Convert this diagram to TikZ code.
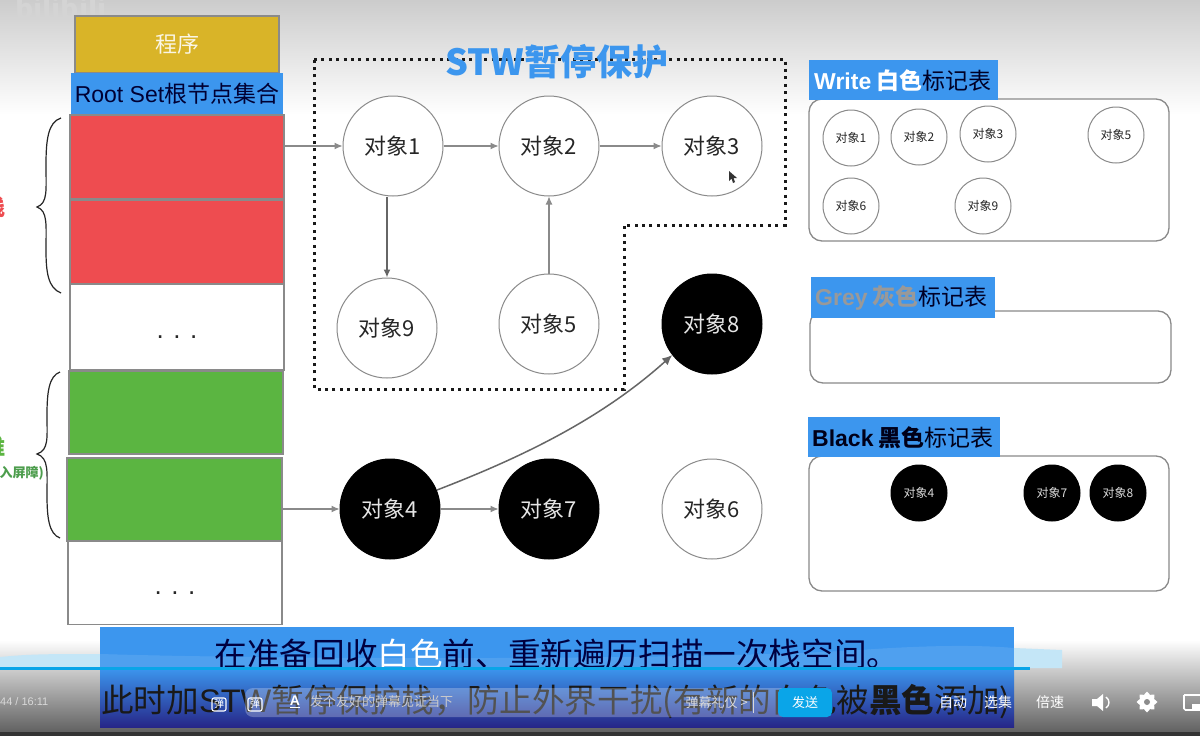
\documentclass[tikz,border=0pt]{standalone}
\usepackage{fontspec}
\setmainfont{Liberation Sans}
\newfontfamily\cjk{Noto Sans CJK SC}
\usetikzlibrary{arrows.meta,calc,shapes.geometric}
\definecolor{blueL}{HTML}{3C96EE}
\definecolor{redF}{HTML}{EE4C50}
\definecolor{greenF}{HTML}{5BB541}
\definecolor{goldF}{HTML}{D9B428}
\definecolor{edgeG}{HTML}{8A8A8A}
\definecolor{barB}{HTML}{0AA5E8}
\definecolor{waveB}{HTML}{C4E6F7}
\tikzset{
  x=1pt,y=-1pt,
  fs/.style={font=\fontsize{#1}{#1}\selectfont\cjk},
  bar/.style={draw=edgeG,line width=1.2pt,minimum width=0,inner sep=0},
  obj/.style={circle,draw=edgeG,fill=white,line width=1pt,minimum size=100pt,inner sep=0,fs=22,text=black!85},
  objb/.style={obj,fill=black,draw=black,text=white!90!black},
  sobj/.style={circle,draw=edgeG,fill=white,line width=1pt,minimum size=56pt,inner sep=0,fs=12,text=black!85},
  sobjb/.style={sobj,fill=black,draw=black,text=white!85!black},
  tbl/.style={draw=edgeG,line width=1.3pt,rounded corners=13pt,fill=white},
  lab/.style={fill=blueL,inner sep=0,anchor=north west},
  con/.style={draw=edgeG,line width=1.1pt,-{Latex[length=8pt,width=7pt]}},
  conb/.style={draw=black!60,line width=1.5pt,-{Latex[length=10pt,width=9pt]}},
  brace/.style={draw=black!85,line width=1.2pt},
  ctl/.style={fs=14,text=white},
  dots/.style={font=\fontsize{26}{26}\selectfont,text=black!85,inner sep=0},
}
\begin{document}
\begin{tikzpicture}
\useasboundingbox (0,0) rectangle (1200,736);
\clip (0,0) rectangle (1200,736);
% background
\fill[white] (0,0) rectangle (1200,736);
\shade[top color=black!20,bottom color=white] (0,0) rectangle (1200,115);
\shade[top color=white,bottom color=black!62] (0,640) rectangle (1200,732);
\fill[black!80] (0,732) rectangle (1200,736);
\node[fs=28,text=black!17,anchor=west,inner sep=0] (wm) at (15,8) {\bfseries bilibili};
% wave
\fill[waveB] (0,668) -- (0,657) .. controls (30,654) and (50,654) .. (100,654) -- (100,668) -- cycle;
\fill[waveB] (1014,668) -- (1014,648) -- (1062,650) -- (1062,668) -- cycle;
% left column
\node[bar,fill=goldF,minimum width=204pt,minimum height=57pt,fs=22,text=white!88!goldF] (prog) at (177,44.5) {程序};
\node[fill=blueL,minimum width=212pt,minimum height=41pt,inner sep=0,font=\fontsize{23}{23}\selectfont\cjk,text=black!80!blue] (root) at (177,93.5) {{\rmfamily Root Set}根节点集合};
\node[bar,fill=redF,minimum width=214pt,minimum height=84pt] (r1) at (177,157) {};
\node[bar,fill=redF,minimum width=214pt,minimum height=84pt] (r2) at (177,242) {};
\node[bar,fill=white,minimum width=214pt,minimum height=86pt] (w1) at (177,327) {};
\node[dots] (dw1) at (177,337) {. . .};
\node[bar,fill=greenF,minimum width=214pt,minimum height=83pt] (g1) at (176,412.5) {};
\node[bar,fill=greenF,minimum width=215pt,minimum height=83pt] (g2) at (174.5,499.5) {};
\node[bar,fill=white,minimum width=214pt,minimum height=83pt] (w2) at (175,583) {};
\node[dots] (dw2) at (175,593) {. . .};
% side labels
\node[text=redF,anchor=east,inner sep=0,font=\fontsize{22}{22}\selectfont\cjk\bfseries] (stk) at (6,207) {栈};
\node[text=greenF,anchor=east,inner sep=0,font=\fontsize{22}{22}\selectfont\cjk\bfseries] (hp) at (6,447) {堆};
\node[text=green!45!black!70!white,anchor=east,inner sep=0,font=\fontsize{13}{13}\selectfont\cjk\bfseries] (hp2) at (44,473) {(插入屏障)};
% braces
\draw[brace] (61,118) .. controls (48,122) and (46,140) .. (46,165) .. controls (46,190) and (48,203) .. (37,207) .. controls (48,211) and (46,225) .. (46,250) .. controls (46,272) and (48,288) .. (61,293);
\draw[brace] (60,372) .. controls (49,376) and (47,392) .. (47,415) .. controls (47,438) and (49,450) .. (37,454) .. controls (49,458) and (47,472) .. (47,495) .. controls (47,518) and (49,534) .. (60,538);
% STW region
\draw[black!90,line width=3pt,dash pattern=on 3pt off 4.4pt] (314,59) -- (785,59) -- (785,225) -- (624,225) -- (624,389) -- (314,389) -- cycle;
\node[font=\fontsize{36}{36}\selectfont\cjk\bfseries,text=blueL,inner sep=0] (stw) at (557,62) {STW暂停保护};
% objects
\node[obj] (o1) at (393,146) {对象1};
\node[obj] (o2) at (549,146) {对象2};
\node[obj] (o3) at (712,146) {对象3};
\node[obj] (o9) at (387,328) {对象9};
\node[obj] (o5) at (549,324) {对象5};
\node[objb] (o8) at (712,324) {对象8};
\node[objb] (o4) at (390,509) {对象4};
\node[objb] (o7) at (549,509) {对象7};
\node[obj] (o6) at (712,509) {对象6};
\coordinate (s1) at (285,146);
\coordinate (s2) at (283,509);
\draw[con] (s1) -- (o1);
\draw[con] (o1) -- (o2);
\draw[con] (o2) -- (o3);
\draw[con,line width=1.5pt,draw=black!60] (o1.south -| o9.north) -- (o9.north);
\draw[con] (o5) -- (o2);
\draw[con] (s2) -- (o4);
\draw[con] (o4) -- (o7);
\draw[conb] (o4.22) .. controls (520,458) and (600,420) .. (o8.218);
% cursor
\fill[black!80] (729,171) -- (729,181) -- (731.5,178.5) -- (733,183) -- (735,182) -- (733.5,178) -- (737,178) -- cycle;
% tables
\draw[tbl] (809,99) rectangle (1169,241);
\node[lab,minimum width=189pt,minimum height=40pt] (lw) at (809,60) {};
\node[anchor=west,inner sep=0,font=\fontsize{23}{23}\selectfont\cjk,text=black!85!blue] (lwt) at (814,81) {\textbf{\rmfamily \textcolor{white}{Write}} \textcolor{white}{\bfseries 白色}标记表};
\node[sobj] (a1) at (851,138) {对象1};
\node[sobj] (a2) at (919,137) {对象2};
\node[sobj] (a3) at (988,134) {对象3};
\node[sobj] (a5) at (1116,135) {对象5};
\node[sobj] (a6) at (851,206) {对象6};
\node[sobj] (a9) at (983,206) {对象9};
\draw[tbl] (810,311) rectangle (1171,383);
\node[lab,minimum width=184pt,minimum height=41pt] (lg) at (811,277) {};
\node[anchor=west,inner sep=0,font=\fontsize{23}{23}\selectfont\cjk,text=black!85!blue] (lgt) at (815,298) {\textcolor{black!40}{\bfseries\rmfamily Grey} \textcolor{black!40}{\bfseries 灰色}标记表};
\draw[tbl] (809,456) rectangle (1169,591);
\node[lab,minimum width=192pt,minimum height=40pt] (lb) at (808,417) {};
\node[anchor=west,inner sep=0,font=\fontsize{23}{23}\selectfont\cjk,text=black!90!blue] (lbt) at (812,438) {{\bfseries\rmfamily Black} {\bfseries 黑色}标记表};
\node[sobjb] (b4) at (919,493) {对象4};
\node[sobjb] (b7) at (1052,493) {对象7};
\node[sobjb] (b8) at (1118,493) {对象8};
% subtitle band
\fill[blueL] (100,627) rectangle (1014,668);
\shade[top color=blueL,bottom color=blue!45!black!85] (100,668) rectangle (1014,727);
\fill[white,opacity=.10] (100,654) .. controls (300,660) and (700,660) .. (860,650) .. controls (930,645) and (980,645) .. (1014,648) -- (1014,668) -- (100,668) -- cycle;
\node[font=\fontsize{32.6}{33}\selectfont\cjk,text=black!75!blue,inner sep=0] (sub1) at (557,654) {在准备回收\textcolor{white}{白色}前、重新遍历扫描一次栈空间。};
\node[font=\fontsize{32.6}{33}\selectfont\cjk,text=black!90,inner sep=0] (sub2) at (556,702) {此时加{\rmfamily STW}暂停保护栈，防止外界干扰(有新的白色被{\bfseries 黑色}添加)};
% player
\fill[barB] (0,666.5) rectangle (1030,669.5);
\fill[white,opacity=.25,rounded corners=8pt] (245,688) rectangle (790,717);
\node[text=white!85!black,inner sep=0,font=\fontsize{11}{11}\selectfont,anchor=west] (time) at (0,702) {44 / 16:11};
\draw[white,line width=1.1pt,rounded corners=2pt] (212,698) rectangle (226,711);
\draw[white,line width=1.1pt,rounded corners=2pt] (248,698) rectangle (262,711);
\node[font=\fontsize{10}{10}\selectfont\cjk,text=white,inner sep=0] (d1) at (219,704) {弹};
\node[font=\fontsize{10}{10}\selectfont\cjk,text=white,inner sep=0] (d2) at (255,704) {弹};
\node[font=\fontsize{14}{14}\selectfont\bfseries,text=white,inner sep=0] (aa) at (295,702) {\underline{A}};
\node[fs=13,text=white!80!black,anchor=west,inner sep=0] (ph) at (310,702) {发个友好的弹幕见证当下};
\node[fs=13,text=white!85!black,anchor=east,inner sep=0] (et) at (748,703) {弹幕礼仪 >};
\draw[white!85!black,line width=1pt] (753,692) -- (753,713);
\node[fill=barB,rounded corners=5pt,minimum width=54pt,minimum height=29pt,inner sep=0,fs=13,text=white] (send) at (805,702.5) {发送};
\node[ctl] (au) at (953,702) {自动};
\node[ctl] (xj) at (998,702) {选集};
\node[ctl] (bs) at (1050,702) {倍速};
% speaker
\fill[white] (1092,699) -- (1097,699) -- (1103,694) -- (1103,711) -- (1097,706) -- (1092,706) -- cycle;
\draw[white,line width=1.4pt] (1106,697) .. controls (1110,700) and (1110,705) .. (1106,708);
% gear
\node[star,star points=8,star point ratio=1.35,fill=white,minimum size=21pt,inner sep=0] (gear) at (1147,702) {};
\node[circle,fill=black!45,minimum size=6pt,inner sep=0] (gearh) at (1147,702) {};
% pip
\draw[white,line width=1.6pt,rounded corners=1.5pt] (1184,695) -- (1184,710) -- (1192,710) (1184,695) -- (1200,695);
\fill[white] (1192,704) rectangle (1200,711);
\end{tikzpicture}
\end{document}
